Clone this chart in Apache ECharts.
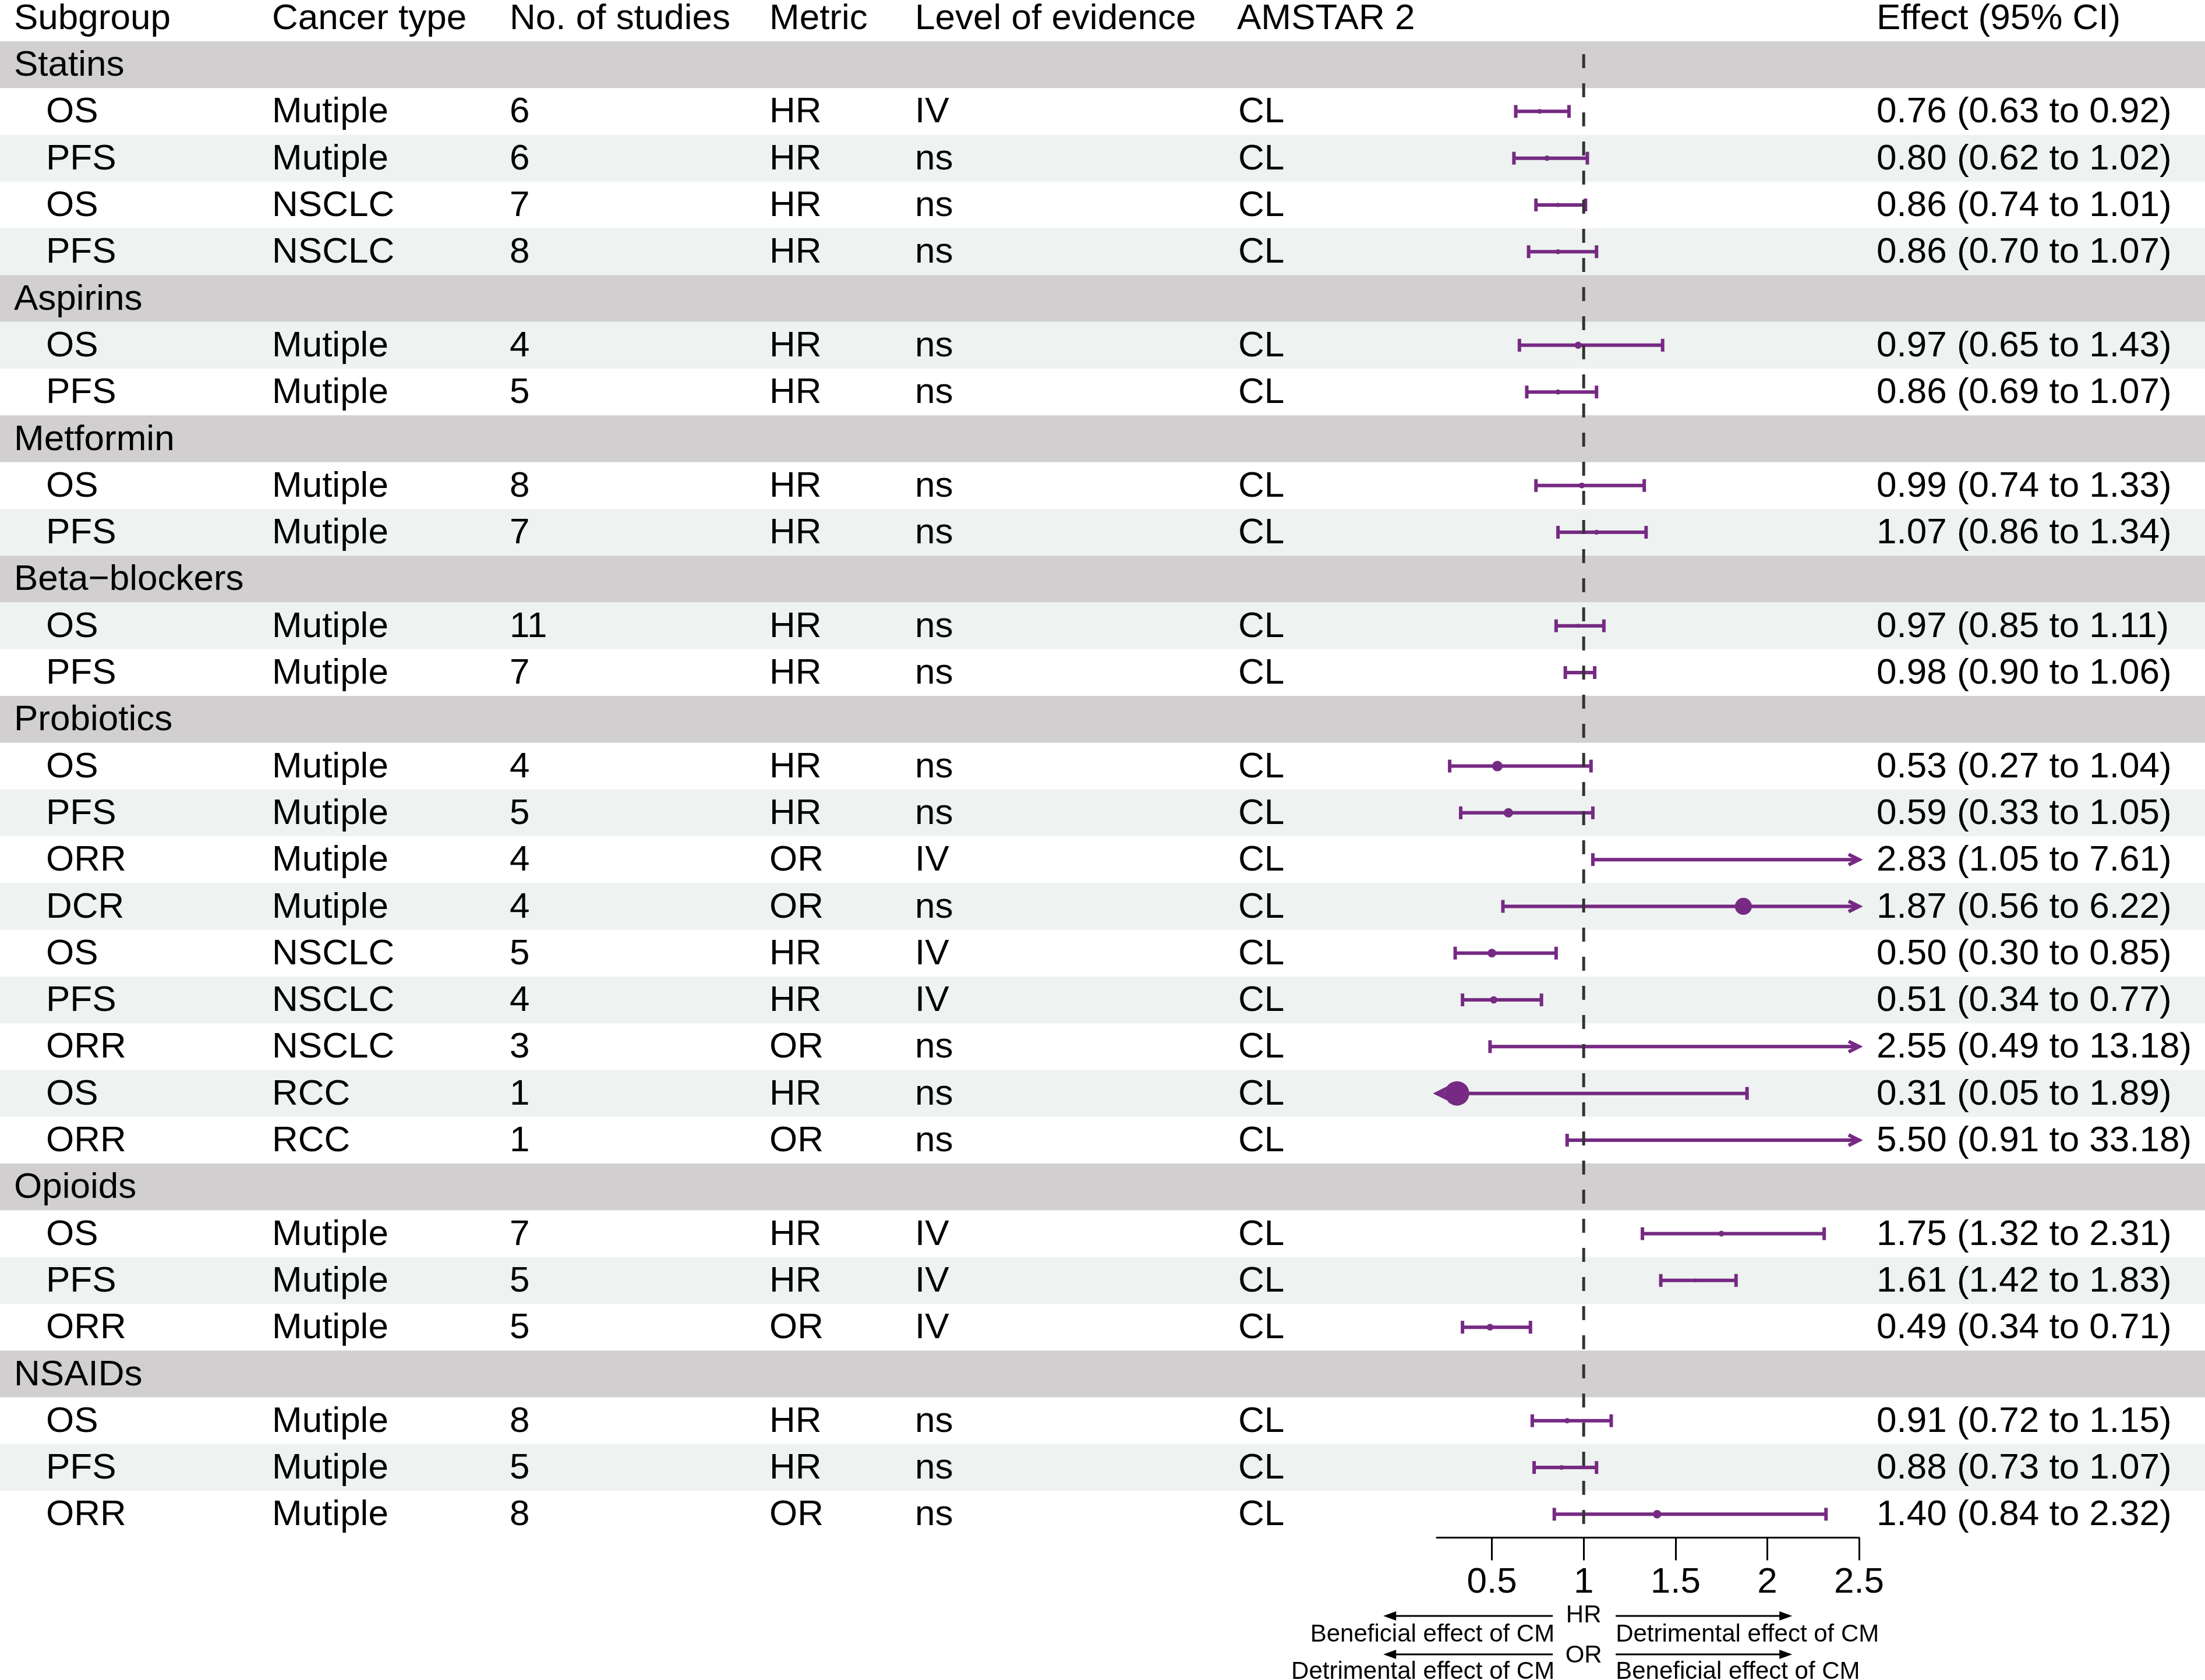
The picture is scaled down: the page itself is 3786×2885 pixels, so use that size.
<!DOCTYPE html>
<html>
<head>
<meta charset="utf-8">
<title>Forest plot</title>
<script src="https://cdn.jsdelivr.net/npm/echarts@6/dist/echarts.min.js"></script>
<style>
  html, body { margin: 0; padding: 0; background: #fff; }
  #chart { width: 3786px; height: 2885px; }
</style>
</head>
<body>
<div id="chart"></div>
<script>
// table columns
const header = ['Subgroup', 'Cancer type', 'No. of studies', 'Metric', 'Level of evidence', 'AMSTAR 2', 'Effect (95% CI)'];
const groups = ['Statins', 'Aspirins', 'Metformin', 'Beta\u2212blockers', 'Probiotics', 'Opioids', 'NSAIDs'];
const groupSize = [4, 2, 2, 2, 9, 3, 3];
const outcome = ['OS', 'PFS', 'OS', 'PFS', 'OS', 'PFS', 'OS', 'PFS', 'OS', 'PFS',
  'OS', 'PFS', 'ORR', 'DCR', 'OS', 'PFS', 'ORR', 'OS', 'ORR', 'OS', 'PFS', 'ORR', 'OS', 'PFS', 'ORR'];
const cancer = ['Mutiple', 'Mutiple', 'NSCLC', 'NSCLC', 'Mutiple', 'Mutiple', 'Mutiple', 'Mutiple', 'Mutiple', 'Mutiple',
  'Mutiple', 'Mutiple', 'Mutiple', 'Mutiple', 'NSCLC', 'NSCLC', 'NSCLC', 'RCC', 'RCC',
  'Mutiple', 'Mutiple', 'Mutiple', 'Mutiple', 'Mutiple', 'Mutiple'];
const nStudies = [6, 6, 7, 8, 4, 5, 8, 7, 11, 7, 4, 5, 4, 4, 5, 4, 3, 1, 1, 7, 5, 5, 8, 5, 8];
const metric = ['HR', 'HR', 'HR', 'HR', 'HR', 'HR', 'HR', 'HR', 'HR', 'HR',
  'HR', 'HR', 'OR', 'OR', 'HR', 'HR', 'OR', 'HR', 'OR', 'HR', 'HR', 'OR', 'HR', 'HR', 'OR'];
const evidence = ['IV', 'ns', 'ns', 'ns', 'ns', 'ns', 'ns', 'ns', 'ns', 'ns',
  'ns', 'ns', 'IV', 'ns', 'IV', 'IV', 'ns', 'ns', 'ns', 'IV', 'IV', 'IV', 'ns', 'ns', 'ns'];
const amstar = ['CL', 'CL', 'CL', 'CL', 'CL', 'CL', 'CL', 'CL', 'CL', 'CL',
  'CL', 'CL', 'CL', 'CL', 'CL', 'CL', 'CL', 'CL', 'CL', 'CL', 'CL', 'CL', 'CL', 'CL', 'CL'];

// effect estimates
const estimate = [0.76, 0.80, 0.86, 0.86, 0.97, 0.86, 0.99, 1.07, 0.97, 0.98,
  0.53, 0.59, 2.83, 1.87, 0.50, 0.51, 2.55, 0.31, 5.50, 1.75, 1.61, 0.49, 0.91, 0.88, 1.40];
const lower = [0.63, 0.62, 0.74, 0.70, 0.65, 0.69, 0.74, 0.86, 0.85, 0.90,
  0.27, 0.33, 1.05, 0.56, 0.30, 0.34, 0.49, 0.05, 0.91, 1.32, 1.42, 0.34, 0.72, 0.73, 0.84];
const upper = [0.92, 1.02, 1.01, 1.07, 1.43, 1.07, 1.33, 1.34, 1.11, 1.06,
  1.04, 1.05, 7.61, 6.22, 0.85, 0.77, 13.18, 1.89, 33.18, 2.31, 1.83, 0.71, 1.15, 1.07, 2.32];

const xTicks = [0.5, 1, 1.5, 2, 2.5];
const X_MIN = 0.2, X_MAX = 2.5;

const PURPLE = '#762a83';
const FONT = '"Liberation Sans", Arial, Helvetica, sans-serif';
const FS = 62;
const COLS = [79, 467, 875, 1321, 1571, 2126, 3222];
const HEAD_X = [24, 467, 875, 1321, 1571, 2124, 3222];
const TY = 2; // small nudge so text sits centred like the original

// flatten into rows: group header rows + data rows
const rows = [];
let k = 0;
groups.forEach((g, gi) => {
  rows.push({ kind: 'group', label: g });
  for (let j = 0; j < groupSize[gi]; j++) {
    rows.push({ kind: 'data', k: k });
    k++;
  }
});
const rowIds = rows.map((r, i) => 'r' + i);

const fmt = v => v.toFixed(2);

const bgData = rows.map((r, i) => [X_MIN, i]);
const forestData = [];
rows.forEach((r, i) => {
  if (r.kind === 'data') forestData.push([estimate[r.k], i, lower[r.k], upper[r.k]]);
});

const chart = echarts.init(document.getElementById('chart'));

function txt(text, x, y, align) {
  return {
    type: 'text',
    style: {
      text: text, x: x, y: y + TY, fill: '#000',
      fontSize: FS, fontFamily: FONT,
      align: align || 'left', verticalAlign: 'middle'
    }
  };
}

const option = {
  backgroundColor: '#fff',
  animation: false,
  grid: { left: 2467, width: 725, top: 70.9, height: 32 * 80.3 },
  xAxis: {
    type: 'value', min: X_MIN, max: X_MAX,
    axisLine: { show: true, lineStyle: { color: '#000', width: 3 } },
    axisTick: { show: true, customValues: xTicks, length: 39, lineStyle: { color: '#000', width: 3 } },
    axisLabel: { customValues: xTicks, fontSize: FS, fontFamily: FONT, color: '#000', margin: 46 },
    splitLine: { show: false }
  },
  yAxis: {
    type: 'category', data: rowIds, inverse: true,
    axisLine: { show: false }, axisTick: { show: false }, axisLabel: { show: false },
    splitLine: { show: false }
  },
  series: [
    {
      // row shading
      type: 'custom', z: 1, clip: false,
      data: bgData,
      renderItem: function (params, api) {
        const i = api.value(1);
        const y = api.coord([X_MIN, i])[1];
        const h = api.size([0, 1])[1];
        let fill = null;
        if (rows[i].kind === 'group') fill = '#d1cfd0';
        else if (i % 2 === 0) fill = '#eef2f1';
        if (!fill) return null;
        return { type: 'rect', shape: { x: 0, y: y - h / 2, width: 3786, height: h }, style: { fill: fill } };
      }
    },
    {
      // table text
      type: 'custom', z: 2, clip: false,
      data: bgData,
      renderItem: function (params, api) {
        const i = api.value(1);
        const y = api.coord([X_MIN, i])[1];
        const r = rows[i];
        if (r.kind === 'group') return { type: 'group', children: [txt(r.label, 24, y)] };
        const q = r.k;
        const vals = [outcome[q], cancer[q], String(nStudies[q]), metric[q], evidence[q], amstar[q],
          fmt(estimate[q]) + ' (' + fmt(lower[q]) + ' to ' + fmt(upper[q]) + ')'];
        return { type: 'group', children: vals.map((v, c) => txt(v, COLS[c], y)) };
      }
    },
    {
      // CI bars and point estimates
      type: 'custom', z: 3, clip: false,
      encode: { x: 0, y: 1 },
      data: forestData,
      renderItem: function (params, api) {
        const est = api.value(0), i = api.value(1), lo = api.value(2), hi = api.value(3);
        const y = api.coord([1, i])[1];
        const xl = api.coord([Math.max(lo, X_MIN), i])[0];
        const xr = api.coord([Math.min(hi, X_MAX), i])[0];
        const st = { stroke: PURPLE, lineWidth: 6, fill: null };
        const ch = [{ type: 'line', shape: { x1: xl, y1: y, x2: xr, y2: y }, style: st }];
        if (lo >= X_MIN) {
          ch.push({ type: 'line', shape: { x1: xl, y1: y - 11, x2: xl, y2: y + 11 }, style: st });
        } else {
          ch.push({ type: 'polyline', shape: { points: [[xl + 18, y - 9], [xl, y], [xl + 18, y + 9]] }, style: st });
        }
        if (hi <= X_MAX) {
          ch.push({ type: 'line', shape: { x1: xr, y1: y - 11, x2: xr, y2: y + 11 }, style: st });
        } else {
          ch.push({ type: 'polyline', shape: { points: [[xr - 18, y - 9], [xr, y], [xr - 18, y + 9]] }, style: st });
        }
        if (est >= X_MIN && est <= X_MAX) {
          const se = (Math.log(hi) - Math.log(lo)) / 3.92;
          const d = 4 + 41 * se;
          const xe = api.coord([est, i])[0];
          ch.push({ type: 'circle', shape: { cx: xe, cy: y, r: d / 2 }, style: { fill: PURPLE } });
        }
        return { type: 'group', children: ch };
      }
    },
    {
      // null-effect reference line
      type: 'custom', z: 4, clip: false,
      data: [[1, 0]],
      encode: { x: 0, y: 1 },
      renderItem: function (params, api) {
        const p0 = api.coord([1, 0]);
        const h = api.size([0, 1])[1];
        const pe = api.coord([1, rows.length - 1]);
        return {
          type: 'line',
          shape: { x1: p0[0], y1: p0[1] - 18, x2: p0[0], y2: pe[1] + h / 2 },
          style: { stroke: '#333', lineWidth: 5, lineDash: [24, 26] }
        };
      }
    }
  ]
};

chart.setOption(option);

// header row and direction notes under the axis
const x1 = chart.convertToPixel({ xAxisIndex: 0 }, 1);
const small = { fontSize: 42, fontFamily: FONT, fill: '#000', verticalAlign: 'middle' };
function arrow(xs, xe, y) {
  const dir = xe > xs ? 1 : -1;
  return [
    { type: 'line', shape: { x1: xs, y1: y, x2: xe - dir * 14, y2: y }, style: { stroke: '#000', lineWidth: 3 } },
    { type: 'polygon', shape: { points: [[xe, y], [xe - dir * 22, y - 8], [xe - dir * 22, y + 8]] }, style: { fill: '#000' } }
  ];
}
const notes = [];
header.forEach((h, c) => notes.push({
  type: 'text', style: { text: h, x: HEAD_X[c], y: 31 + TY, fontSize: FS, fontFamily: FONT, fill: '#000', verticalAlign: 'middle' }
}));
notes.push({ type: 'text', style: Object.assign({ text: 'HR', x: x1, y: 2774, align: 'center' }, small) });
notes.push({ type: 'text', style: Object.assign({ text: 'OR', x: x1, y: 2843, align: 'center' }, small) });
notes.push({ type: 'text', style: Object.assign({ text: 'Beneficial effect of CM', x: x1 - 50, y: 2807, align: 'right' }, small) });
notes.push({ type: 'text', style: Object.assign({ text: 'Detrimental effect of CM', x: x1 + 55, y: 2807, align: 'left' }, small) });
notes.push({ type: 'text', style: Object.assign({ text: 'Detrimental effect of CM', x: x1 - 50, y: 2871, align: 'right' }, small) });
notes.push({ type: 'text', style: Object.assign({ text: 'Beneficial effect of CM', x: x1 + 55, y: 2871, align: 'left' }, small) });
arrow(x1 - 53, x1 - 344, 2775).forEach(e => notes.push(e));
arrow(x1 + 55, x1 + 358, 2775).forEach(e => notes.push(e));
arrow(x1 - 53, x1 - 344, 2841).forEach(e => notes.push(e));
arrow(x1 + 55, x1 + 358, 2841).forEach(e => notes.push(e));

chart.setOption({ graphic: { elements: notes } });
</script>
</body>
</html>
